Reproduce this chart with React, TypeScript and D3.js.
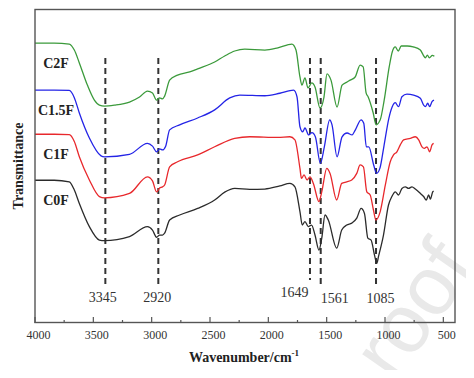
import React from "react";
import * as d3 from "d3";

// ---- data (wavenumber cm^-1, transmittance a.u.) ----
const seriesNames = ["C2F", "C1.5F", "C1F", "C0F"];
const seriesColors = ["#3b9a3b", "#2424e6", "#e8282c", "#2b2b2b"];

const c2f: [number, number][] = [
  [4000, 89.4], [3835, 89.4], [3706, 89.1], [3663, 87.2], [3620, 83.1], [3551, 76.0], [3491, 71.2], [3448, 69.6],
  [3405, 69.3], [3319, 69.6], [3190, 70.6], [3104, 72.2], [3036, 74.1], [2993, 73.5], [2958, 71.2], [2932, 71.9],
  [2907, 71.6], [2889, 72.5], [2846, 77.6], [2778, 79.2], [2674, 80.2], [2606, 81.2], [2460, 83.4], [2374, 85.3],
  [2288, 86.9], [2202, 87.5], [2030, 87.2], [1918, 87.9], [1798, 89.1], [1763, 87.2], [1729, 78.6], [1712, 76.0],
  [1686, 78.3], [1660, 75.1], [1628, 76.7], [1600, 75.4], [1557, 68.7], [1523, 72.2], [1497, 79.6], [1463, 77.6],
  [1411, 69.0], [1368, 76.0], [1325, 77.0], [1299, 77.6], [1256, 78.6], [1213, 82.4], [1187, 81.8], [1162, 73.5],
  [1144, 72.2], [1101, 67.1], [1076, 63.3], [1041, 64.9], [1007, 71.2], [964, 81.8], [938, 86.6], [912, 88.2],
  [886, 86.9], [861, 88.5], [809, 88.5], [758, 88.2], [697, 87.2], [672, 85.6], [654, 84.7], [637, 85.6],
  [620, 84.7], [594, 85.5], [577, 85.2],
];

const c15f: [number, number][] = [
  [4000, 74.4], [3835, 74.4], [3706, 74.3], [3663, 72.0], [3620, 67.1], [3534, 59.1], [3434, 53.4], [3405, 53.1],
  [3190, 53.9], [3036, 57.4], [2993, 56.5], [2958, 54.7], [2932, 55.6], [2907, 55.3], [2880, 56.5], [2846, 61.7],
  [2760, 63.3], [2606, 65.5], [2460, 68.1], [2331, 71.9], [2245, 72.8], [2030, 72.6], [1901, 73.4], [1783, 74.4],
  [1754, 72.2], [1729, 62.7], [1706, 61.1], [1686, 62.3], [1654, 60.1], [1626, 60.8], [1597, 59.5], [1554, 51.0],
  [1520, 56.3], [1474, 64.9], [1454, 63.3], [1411, 53.1], [1368, 59.5], [1325, 60.7], [1282, 60.1], [1254, 61.7],
  [1205, 64.9], [1182, 63.8], [1160, 56.3], [1139, 56.3], [1097, 50.5], [1073, 47.8], [1044, 49.4], [1010, 56.3],
  [967, 65.4], [938, 69.1], [912, 70.4], [884, 69.1], [855, 72.3], [812, 73.1], [755, 72.8], [697, 71.8],
  [669, 69.6], [654, 69.1], [634, 70.2], [617, 69.1], [597, 70.7], [580, 71.2],
];

const c1f: [number, number][] = [
  [4000, 60.3], [3835, 60.3], [3706, 60.2], [3663, 58.0], [3620, 53.1], [3534, 45.7], [3448, 40.4], [3405, 40.0],
  [3190, 41.4], [3036, 46.7], [2993, 45.4], [2958, 41.9], [2932, 43.1], [2907, 43.5], [2889, 44.1], [2846, 49.9],
  [2778, 51.5], [2606, 53.7], [2460, 56.3], [2288, 59.0], [2159, 59.5], [1918, 59.3], [1815, 59.5], [1772, 58.5],
  [1729, 49.4], [1716, 46.2], [1694, 47.3], [1668, 45.7], [1643, 46.7], [1614, 44.6], [1566, 38.8], [1542, 41.9],
  [1499, 49.4], [1471, 47.8], [1414, 39.3], [1371, 44.6], [1328, 45.1], [1285, 45.7], [1242, 47.8], [1213, 50.5],
  [1185, 49.9], [1156, 41.9], [1127, 40.9], [1099, 36.1], [1078, 32.9], [1041, 35.6], [997, 44.1], [955, 51.5],
  [927, 53.7], [898, 54.7], [869, 56.9], [841, 58.5], [783, 59.0], [740, 59.5], [711, 58.5], [683, 56.3],
  [663, 55.8], [640, 56.3], [617, 54.7], [597, 56.9], [583, 57.4],
];

const c0f: [number, number][] = [
  [4000, 45.6], [3835, 45.6], [3706, 45.1], [3663, 42.5], [3620, 38.2], [3534, 30.8], [3448, 26.5], [3405, 26.3],
  [3190, 27.6], [3036, 30.8], [2993, 29.7], [2958, 27.4], [2932, 28.1], [2907, 28.1], [2889, 28.7], [2846, 32.9],
  [2760, 34.5], [2606, 36.6], [2460, 39.3], [2374, 41.8], [2288, 43.0], [2159, 42.7], [2030, 42.8], [1901, 43.8],
  [1815, 44.6], [1772, 43.5], [1729, 35.6], [1709, 31.3], [1686, 32.4], [1658, 30.8], [1629, 31.3], [1600, 28.1],
  [1566, 23.3], [1542, 27.1], [1514, 34.5], [1486, 32.9], [1414, 23.9], [1371, 29.7], [1328, 31.3], [1285, 31.9],
  [1242, 33.5], [1205, 36.6], [1176, 35.0], [1147, 27.1], [1119, 26.5], [1090, 21.7], [1070, 19.1], [1056, 21.2],
  [1013, 28.1], [970, 37.7], [941, 40.4], [912, 41.9], [884, 40.9], [855, 43.0], [826, 43.5], [798, 43.0],
  [769, 43.5], [740, 42.8], [697, 41.4], [669, 40.4], [646, 39.3], [626, 40.9], [611, 39.6], [591, 41.9],
  [583, 42.2],
];

const seriesData = [c2f, c15f, c1f, c0f];

const peakPositions = [3397, 2943, 1643, 1551, 1077];
const peakLabels = ["3345", "2920", "1649", "1561", "1085"];

const majorTicks = [4000, 3500, 3000, 2500, 2000, 1500, 1000, 500];
const minorTicks = [3750, 3250, 2750, 2250, 1750, 1250, 750];

const watermarkText = "roof";

// ---- layout ----
const W = 474;
const H = 378;
const serif = "'Liberation Serif', 'Times New Roman', Times, serif";

export default function App() {
  const x = d3.scaleLinear().domain([4000, 400]).range([35, 455]);
  const y = d3.scaleLinear().domain([0, 100]).range([323, 10]);
  const line = d3
    .line<[number, number]>()
    .x((d) => x(d[0]))
    .y((d) => y(d[1]))
    .curve(d3.curveMonotoneX);

  const [x0, x1] = x.range();
  const [yb, yt] = y.range();
  const labelDx = [-2.5, -1, -15.5, 14, 4.5];
  const labelBase = [301.5, 302, 296.5, 302.5, 303];

  return (
    <div style={{ margin: -8, width: W, height: H, background: "#fff" }}>
      <svg width={W} height={H} style={{ display: "block" }} fontFamily={serif}>
        <rect x={0} y={0} width={W} height={H} fill="#fff" />
        {/* watermark */}
        <text
          transform="translate(395,384) rotate(-55)"
          textAnchor="start"
          fontFamily="'Liberation Sans', Arial, sans-serif"
          fontSize={83}
          fill="#e9e9e9"
        >
          {watermarkText}
        </text>

        {/* dashed marker lines */}
        {peakPositions.map((p, i) => (
          <line
            key={"d" + i}
            x1={x(p)}
            x2={x(p)}
            y1={58}
            y2={i === 2 ? 280 : 285}
            stroke="#333"
            strokeWidth={2}
            strokeDasharray="6,4"
          />
        ))}

        {/* spectra */}
        {seriesData.map((s, i) => (
          <path key={"s" + i} d={line(s) || ""} fill="none" stroke={seriesColors[i]} strokeWidth={1.3} />
        ))}

        {/* series labels */}
        {seriesData.map((s, i) => (
          <text
            key={"l" + i}
            x={56}
            y={y(s[0][1]) + 25}
            textAnchor="middle"
            fontSize={14}
            fontWeight="bold"
            fill="#222"
          >
            {seriesNames[i]}
          </text>
        ))}

        {/* peak labels */}
        {peakPositions.map((p, i) => (
          <text key={"p" + i} x={x(p) + labelDx[i]} y={labelBase[i]} textAnchor="middle" fontSize={14} fill="#333">
            {peakLabels[i]}
          </text>
        ))}

        {/* frame */}
        <rect x={x0} y={yt - 0.5} width={x1 - x0} height={yb - yt} fill="none" stroke="#555" strokeWidth={1.4} />

        {/* ticks */}
        {majorTicks.map((t) => (
          <line key={"M" + t} x1={x(t)} x2={x(t)} y1={yb} y2={yb - 6} stroke="#555" strokeWidth={1.2} />
        ))}
        {minorTicks.map((t) => (
          <line key={"m" + t} x1={x(t)} x2={x(t)} y1={yb} y2={yb - 3} stroke="#555" strokeWidth={1.2} />
        ))}
        {majorTicks.map((t) => (
          <text key={"t" + t} x={x(t) + 3.5} y={339} textAnchor="middle" fontSize={12} fill="#333">
            {t}
          </text>
        ))}

        {/* axis titles */}
        <text x={244} y={362} textAnchor="middle" fontSize={14} fontWeight="bold" fill="#222">
          Wavenumber/cm
          <tspan fontSize={9} dy={-6}>-1</tspan>
        </text>
        <text
          transform="translate(23,166) rotate(-90)"
          textAnchor="middle"
          fontSize={14}
          fontWeight="bold"
          fill="#222"
        >
          Transmittance
        </text>
      </svg>
    </div>
  );
}
